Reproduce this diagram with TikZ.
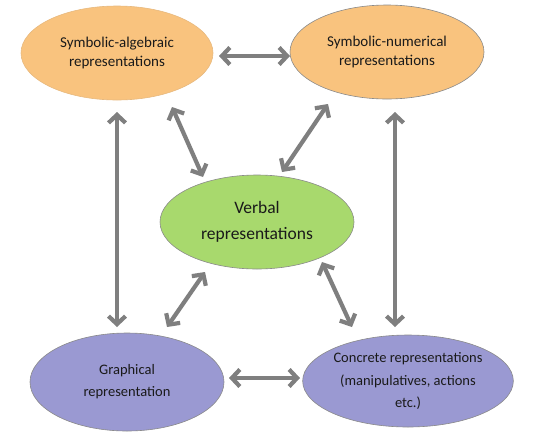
\documentclass[tikz,border=0pt]{standalone}
\usepackage{fontspec}
\setmainfont{Carlito}
\usetikzlibrary{shapes.geometric,arrows.meta,calc}
\definecolor{orangefill}{HTML}{F9C37E}
\definecolor{greenfill}{HTML}{A8D96D}
\definecolor{purplefill}{HTML}{9A99D2}
\definecolor{arrowgray}{HTML}{7F7F7F}
\definecolor{edgegray}{HTML}{8A8A8A}
\definecolor{txt}{HTML}{1A1A1A}
\begin{document}
\begin{tikzpicture}[x=1pt,y=-1pt,
  repr/.style={ellipse, draw=edgegray, line width=0.6pt, inner sep=0pt, align=center, text=txt,
    font=\fontsize{15}{19.5}\selectfont},
  link/.style={arrowgray, line width=4.2pt, {Straight Barb[length=8pt,width=17pt]}-{Straight Barb[length=8pt,width=17pt]}}
]
\useasboundingbox (0,0) rectangle (535,432);
\node[repr, fill=orangefill, draw=orangefill!85!gray, minimum width=192pt, minimum height=94pt] (tl) at (117,53) {Symbolic-algebraic\\representations};
\node[repr, fill=orangefill, minimum width=194pt, minimum height=94pt] (tr) at (387,52) {Symbolic-numerical\\representations};
\node[repr, fill=greenfill, minimum width=194pt, minimum height=94pt, font=\fontsize{17.5}{26}\selectfont] (v) at (257,222) {Verbal\\representations};
\node[repr, fill=purplefill, minimum width=194pt, minimum height=98pt, font=\fontsize{14.5}{22}\selectfont] (bl) at (127,382) {Graphical\\representation};
\node[repr, fill=purplefill, minimum width=210pt, minimum height=92pt, font=\fontsize{14.5}{22.5}\selectfont] (br) at (408,381) {Concrete representations\\(manipulatives, actions\\etc.)};

\draw[link] ([shift={(102,3)}]tl.center) -- ([shift={(-97,4)}]tr.center);
\draw[link] ([shift={(102,-4)}]bl.center) -- ([shift={(-108,-3)}]br.center);
\draw[link] ([shift={(0,59)}]tl.center) -- ([shift={(-10,-55)}]bl.center);
\draw[link] ([shift={(8,60)}]tr.center) -- ([shift={(-13,-54)}]br.center);
\draw[link] ([shift={(55,54)}]tl.center) -- ([shift={(-54,-45)}]v.center);
\draw[link] ([shift={(-59,52)}]tr.center) -- ([shift={(25,-50)}]v.center);
\draw[link] ([shift={(40,-55)}]bl.center) -- ([shift={(-52,50)}]v.center);
\draw[link] ([shift={(-56,-54)}]br.center) -- ([shift={(65,40)}]v.center);
\end{tikzpicture}
\end{document}
